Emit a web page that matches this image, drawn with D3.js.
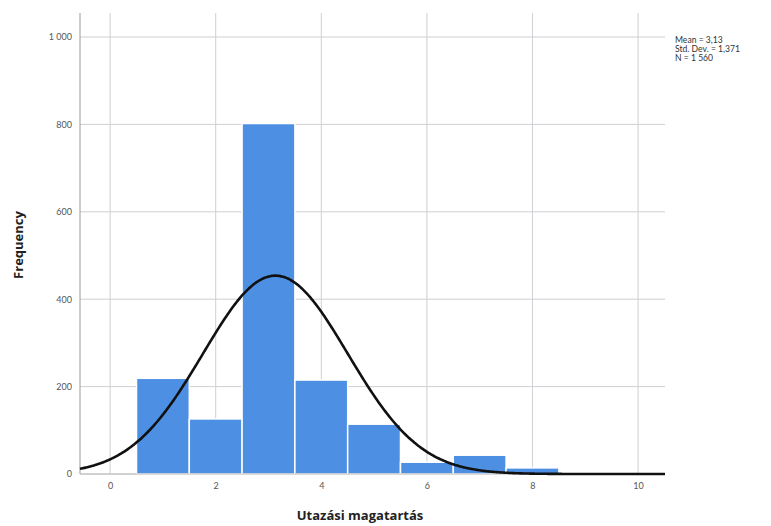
<!DOCTYPE html>
<html><head><meta charset="utf-8">
<script src="https://cdn.jsdelivr.net/npm/d3@7"></script>
<style>body{margin:0;background:#fff;} svg{display:block;}</style>
</head><body>
<svg id="c" width="771" height="526"></svg>
<script>
const binCenters = [1, 2, 3, 4, 5, 6, 7, 8];
const frequencies = [219, 126, 802, 215, 114, 27, 43, 14];
const xTicks = [0, 2, 4, 6, 8, 10];
const yTicks = [0, 200, 400, 600, 800, 1000];
const yTickLabels = ["0", "200", "400", "600", "800", "1 000"];
const statsLines = ["Mean = 3,13", "Std. Dev. = 1,371", "N = 1 560"];
const mean = 3.13, sd = 1.371, n = 1560, binWidth = 1;

const svg = d3.select("#c");
const L = 80, R = 665, T = 13, B = 474;
const x = d3.scaleLinear().domain([-0.57, 10.51]).range([L, R]);
const y = d3.scaleLinear().domain([0, 1000]).range([B, 37]);

// gridlines
const g = svg.append("g");
g.selectAll(".vg").data(xTicks).join("line")
  .attr("x1", d => x(d)).attr("x2", d => x(d)).attr("y1", T).attr("y2", B)
  .attr("stroke", "#cfcfd4").attr("stroke-width", 1);
g.selectAll(".hg").data(yTicks).join("line")
  .attr("x1", L).attr("x2", R).attr("y1", d => y(d)).attr("y2", d => y(d))
  .attr("stroke", "#cfcfd4").attr("stroke-width", 1);

// bars
svg.append("g").selectAll("rect").data(binCenters).join("rect")
  .attr("x", d => x(d - binWidth / 2))
  .attr("width", d => x(d + binWidth / 2) - x(d - binWidth / 2))
  .attr("y", (d, i) => y(frequencies[i]))
  .attr("height", (d, i) => B - y(frequencies[i]))
  .attr("fill", "#4d8fe3").attr("stroke", "#fff").attr("stroke-width", 1.5);

// axes
const yAxis = d3.axisLeft(y).tickValues(yTicks).tickFormat((d, i) => yTickLabels[i]).tickSize(0).tickPadding(8);
const ya = svg.append("g").attr("transform", `translate(${L},0)`).call(yAxis);
ya.select(".domain").remove();
ya.selectAll("text").attr("fill", "#555").style("font-family", "Lato, 'Open Sans', sans-serif").style("font-size", "9px");
svg.append("line").attr("x1", L).attr("x2", L).attr("y1", T).attr("y2", B).attr("stroke", "#999").attr("stroke-width", 1);

const xAxis = d3.axisBottom(x).tickValues(xTicks).tickFormat(d3.format("d")).tickSize(0).tickPadding(9);
const xa = svg.append("g").attr("transform", `translate(0,${B})`).call(xAxis);
xa.select(".domain").remove();
xa.selectAll("text").attr("fill", "#555").style("font-family", "Lato, 'Open Sans', sans-serif").style("font-size", "9px");
svg.append("line").attr("x1", L).attr("x2", R).attr("y1", B).attr("y2", B).attr("stroke", "#bbb").attr("stroke-width", 1);

// normal curve
const pts = d3.range(0, 401).map(i => {
  const v = -0.57 + (10.51 + 0.57) * i / 400;
  const f = n * binWidth / (sd * Math.sqrt(2 * Math.PI)) * Math.exp(-((v - mean) ** 2) / (2 * sd * sd));
  return [v, f];
});
svg.append("path").datum(pts)
  .attr("d", d3.line().x(d => x(d[0])).y(d => y(d[1])).curve(d3.curveBasis))
  .attr("fill", "none").attr("stroke", "#111").attr("stroke-width", 2.6);

// labels
svg.append("text").attr("x", 360).attr("y", 520).attr("text-anchor", "middle")
  .style("font-family", "'Open Sans', 'Noto Sans', sans-serif").style("font-size", "13px").style("font-weight", "bold")
  .attr("fill", "#222").text("Utazási magatartás");
svg.append("text").attr("transform", "translate(23,245) rotate(-90)").attr("text-anchor", "middle")
  .style("font-family", "'Open Sans', 'Noto Sans', sans-serif").style("font-size", "13px").style("font-weight", "bold")
  .attr("fill", "#222").text("Frequency");

svg.append("g").selectAll("text").data(statsLines).join("text")
  .attr("x", 675).attr("y", (d, i) => 43 + i * 9)
  .style("font-family", "Lato, 'Open Sans', sans-serif").style("font-size", "8.6px")
  .attr("fill", "#333").text(d => d);
</script>
</body></html>
